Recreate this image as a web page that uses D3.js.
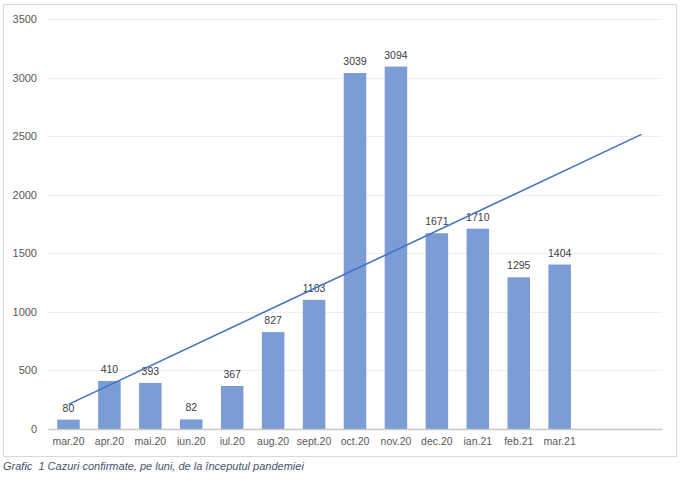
<!DOCTYPE html>
<html>
<head>
<meta charset="utf-8">
<script src="https://cdn.jsdelivr.net/npm/d3@7"></script>
<style>
  body { margin: 0; background: #fff; }
  svg { display: block; font-family: "Liberation Sans", Arial, sans-serif; }
</style>
</head>
<body>
<div id="chart"></div>
<script>
// monthly confirmed cases
const months = ["mar.20", "apr.20", "mai.20", "iun.20", "iul.20", "aug.20", "sept.20",
  "oct.20", "nov.20", "dec.20", "ian.21", "feb.21", "mar.21"];
const cases = [80, 410, 393, 82, 367, 827, 1103, 3039, 3094, 1671, 1710, 1295, 1404];
// two empty slots after the data (trend forecast)
const slotCount = 15;
// linear trend line: [slot, value]
const trendPoints = [[0, 210], [14, 2515]];
const yTicks = [0, 500, 1000, 1500, 2000, 2500, 3000, 3500];
const caption = "Grafic  1 Cazuri confirmate, pe luni, de la începutul pandemiei";

const size = { x: 693, y: 486 };
const plot = { left: 48, right: 662, top: 19, bottom: 429 };

const svg = d3.select("#chart")
  .append("svg")
  .attr("width", size.x)
  .attr("height", size.y);

// chart frame
svg.append("rect")
  .attr("x", 3.5)
  .attr("y", 4.5)
  .attr("width", 673)
  .attr("height", 452)
  .attr("fill", "#fff")
  .attr("stroke", "#d9d9d9");

const xScale = d3.scaleBand()
  .domain(d3.range(slotCount))
  .range([plot.left, plot.right])
  .paddingInner(0.45)
  .paddingOuter(0.225);

const yScale = d3.scaleLinear()
  .domain([0, 3500])
  .range([plot.bottom, plot.top]);

// gridlines
svg.append("g")
  .selectAll("line")
  .data(yTicks.slice(1))
  .enter()
  .append("line")
  .attr("x1", plot.left)
  .attr("x2", plot.right)
  .attr("y1", d => Math.round(yScale(d)) + 0.5)
  .attr("y2", d => Math.round(yScale(d)) + 0.5)
  .attr("stroke", "#eeeeee");

// y axis labels (no domain line)
const yAxis = svg.append("g")
  .attr("transform", `translate(${plot.left},0)`)
  .call(d3.axisLeft(yScale)
    .tickValues(yTicks)
    .tickFormat(d3.format("d"))
    .tickSize(0)
    .tickPadding(11));
yAxis.select(".domain").remove();
yAxis.selectAll("text")
  .attr("font-size", "11px")
  .attr("fill", "#595959")
  .attr("font-family", "Liberation Sans, Arial, sans-serif");

// bars
const bars = svg.append("g")
  .selectAll("g")
  .data(cases.map((v, i) => [i, v]))
  .enter()
  .append("g");

bars.append("rect")
  .attr("x", d => xScale(d[0]))
  .attr("y", d => yScale(d[1]))
  .attr("width", xScale.bandwidth())
  .attr("height", d => plot.bottom - yScale(d[1]))
  .attr("fill", "#7b9cd5");

// x axis
const xAxis = svg.append("g")
  .attr("transform", `translate(0,${plot.bottom})`)
  .call(d3.axisBottom(xScale)
    .tickSize(0)
    .tickPadding(9)
    .tickFormat(i => months[i] || ""));
xAxis.select(".domain")
  .attr("stroke", "#c8c8c8")
  .attr("stroke-width", 1.5);
xAxis.selectAll("text")
  .attr("font-size", "10.5px")
  .attr("fill", "#595959")
  .attr("font-family", "Liberation Sans, Arial, sans-serif");

// trend line
const trendLine = d3.line()
  .x(d => xScale(d[0]) + xScale.bandwidth() / 2)
  .y(d => yScale(d[1]));

svg.append("path")
  .datum(trendPoints)
  .attr("d", trendLine)
  .attr("fill", "none")
  .attr("stroke", "#4472c4")
  .attr("stroke-width", 1.6);

// value labels
bars.append("text")
  .attr("x", d => xScale(d[0]) + xScale.bandwidth() / 2)
  .attr("y", d => yScale(d[1]) - 8)
  .attr("text-anchor", "middle")
  .attr("font-size", "10.5px")
  .attr("fill", "#404040")
  .text(d => d[1]);

// caption
svg.append("text")
  .attr("x", 3)
  .attr("y", 470)
  .attr("font-size", "11px")
  .attr("font-style", "italic")
  .attr("fill", "#44546a")
  .style("white-space", "pre")
  .text(caption);
</script>
</body>
</html>
